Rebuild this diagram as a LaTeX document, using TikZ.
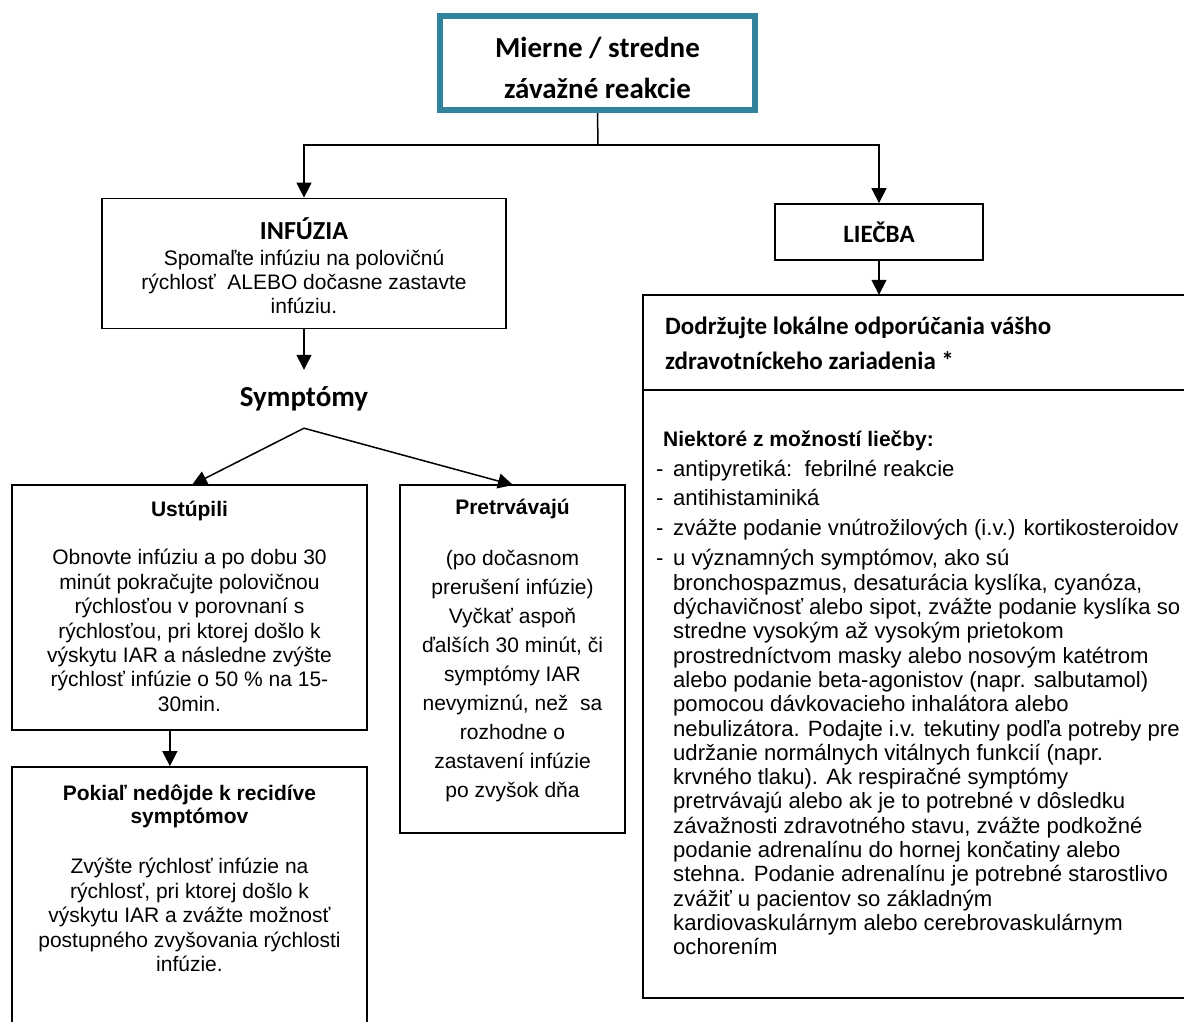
\documentclass[tikz,border=0pt]{standalone}
\usepackage{fontspec}
\setmainfont{Liberation Sans}
\newfontfamily\calib{Carlito}
\usetikzlibrary{arrows.meta,calc}
\definecolor{teal5}{RGB}{49,132,155}
\newcommand\lidash{\makebox[17pt][l]{-}}
\newcommand\liind{\hspace*{17pt}}
\tikzset{
  box/.style={draw, line width=1.8pt, inner sep=0},
  bline/.style={line width=1.8pt},
  arr/.style={line width=1.5pt, -{Triangle[width=15pt,length=15pt]}},
  conn/.style={line width=1.5pt},
  txt/.style={inner sep=0, align=center},
  body/.style={font=\fontsize{21}{24.4}\selectfont},
}
\begin{document}
\begin{tikzpicture}[x=1pt,y=-1pt]
\path[use as bounding box, clip] (0,0) rectangle (1184,1021);
\fill[white] (0,0) rectangle (1184,1021);

% top box
\node[draw=teal5, line width=6pt, minimum width=315pt, minimum height=94pt, inner sep=0] (top) at (597.5,63) {};
\node[txt, font=\calib\bfseries\fontsize{29}{41}\selectfont] (ttop) at (597.5,68) {Mierne / stredne\\závažné reakcie};

% INFUZIA
\node[box, minimum width=404pt, minimum height=130pt] (inf) at (304,263.5) {};
\node[txt, body] (tinf) at (304,266) {{\calib\bfseries\fontsize{26}{28}\selectfont INFÚZIA}\\[1pt]Spomaľte infúziu na polovičnú\\rýchlosť\ \ ALEBO dočasne zastavte\\infúziu.};

% LIECBA
\node[box, minimum width=208pt, minimum height=56pt, font=\calib\bfseries\fontsize{25}{28}\selectfont] (lie) at (879,232) {LIEČBA};

% split
\coordinate (j1) at (598,145);
\draw[conn] (top.south) -- (j1);
\draw[arr] (j1) -| (inf.north);
\draw[arr] (j1) -| (lie.north);

% Symptomy
\node[txt, font=\calib\bfseries\fontsize{29}{32}\selectfont, minimum height=58pt] (sym) at (304,399) {Symptómy};
\draw[arr] (inf.south) -- (sym.north);

% right box
\node[inner sep=0, minimum width=560pt, minimum height=703pt] (rbox) at (923,646.5) {};
\draw[bline] (rbox.north east) -- (rbox.north west) -- (rbox.south west) -- (rbox.south east);
\draw[bline] ($(rbox.north west)+(0,95)$) -- ($(rbox.north east)+(0,95)$);
\draw[arr] (lie.south) -- (lie.south |- rbox.north);
\node[txt, align=left, anchor=west, font=\calib\bfseries\fontsize{25}{35}\selectfont] (thead) at (665,343) {Dodržujte lokálne odporúčania vášho\\zdravotníckeho zariadenia *};
\node[txt, align=left, anchor=west, font=\fontsize{22.1}{24.3}\selectfont] (tlist) at (656,693) {%
\hspace*{7pt}{\fontsize{21}{24.3}\selectfont\bfseries Niektoré z možností liečby:}\\[5pt]
\lidash antipyretiká:\ \ febrilné reakcie\\[5pt]
\lidash antihistaminiká\\[6pt]
\lidash zvážte podanie vnútrožilových (i.v.) kortikosteroidov\\[6pt]
\lidash u významných symptómov, ako sú\\
\liind bronchospazmus, desaturácia kyslíka, cyanóza,\\
\liind dýchavičnosť alebo sipot, zvážte podanie kyslíka so\\
\liind stredne vysokým až vysokým prietokom\\
\liind prostredníctvom masky alebo nosovým katétrom\\
\liind alebo podanie beta-agonistov (napr. salbutamol)\\
\liind pomocou dávkovacieho inhalátora alebo\\
\liind nebulizátora. Podajte i.v. tekutiny podľa potreby pre\\
\liind udržanie normálnych vitálnych funkcií (napr.\\
\liind krvného tlaku). Ak respiračné symptómy\\
\liind pretrvávajú alebo ak je to potrebné v dôsledku\\
\liind závažnosti zdravotného stavu, zvážte podkožné\\
\liind podanie adrenalínu do hornej končatiny alebo\\
\liind stehna. Podanie adrenalínu je potrebné starostlivo\\
\liind zvážiť u pacientov so základným\\
\liind kardiovaskulárnym alebo cerebrovaskulárnym\\
\liind ochorením};

% Ustupili
\node[box, minimum width=355pt, minimum height=245pt] (ust) at (189.5,607.5) {};
\node[txt, body] (tust) at (189.5,606) {\textbf{Ustúpili}\\[24.4pt]Obnovte infúziu a po dobu 30\\minút pokračujte polovičnou\\rýchlosťou v porovnaní s\\rýchlosťou, pri ktorej došlo k\\výskytu IAR a následne zvýšte\\rýchlosť infúzie o 50 \% na 15-\\30min.};

% Pretrvavaju
\node[box, minimum width=225pt, minimum height=348pt] (pre) at (512.5,659) {};
\node[txt, font=\fontsize{21}{29}\selectfont] (tpre) at (512.5,650) {\textbf{Pretrvávajú}\\[22pt](po dočasnom\\prerušení infúzie)\\Vyčkať aspoň\\ďalších 30 minút, či\\symptómy IAR\\nevymiznú, než\ \ sa\\rozhodne o\\zastavení infúzie\\po zvyšok dňa};

% Pokial
\node[box, minimum width=355pt, minimum height=273pt] (pok) at (189.5,903.5) {};
\node[txt, body] (tpok) at (189.5,878) {\textbf{Pokiaľ nedôjde k recidíve}\\[-1pt]\textbf{symptómov}\\[26pt]Zvýšte rýchlosť infúzie na\\rýchlosť, pri ktorej došlo k\\výskytu IAR a zvážte možnosť\\postupného zvyšovania rýchlosti\\infúzie.};

% symptom arrows
\coordinate (ustin) at (192,485);
\coordinate (prein) at (513,485);
\draw[arr] (sym.south) -- (ustin);
\draw[arr] (sym.south) -- (prein);
\draw[arr] ($(ust.south west)!0.445!(ust.south east)$) -- ($(pok.north west)!0.445!(pok.north east)$);
\end{tikzpicture}
\end{document}
